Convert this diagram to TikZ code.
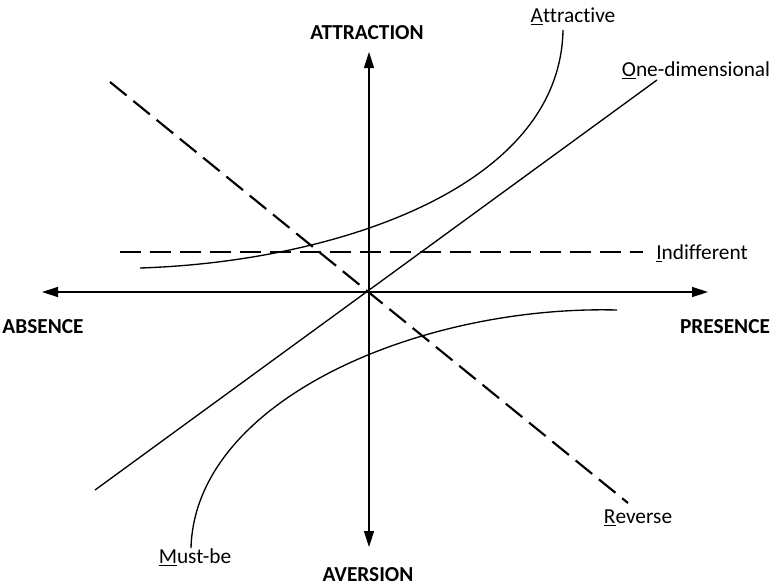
\documentclass[tikz,border=0pt]{standalone}
\usepackage{fontspec}
\setmainfont{Carlito}[Ligatures=NoCommon]
\usepackage{tikz}
\usetikzlibrary{arrows.meta, positioning}

\begin{document}
\begin{tikzpicture}[x=0.75pt, y=-0.75pt,
    axis/.style={line width=1pt, {Triangle[length=12pt, width=7.5pt]}-{Triangle[length=12pt, width=7.5pt]}},
    curve/.style={line width=1pt},
    dashline/.style={line width=1.6pt, dash pattern=on 16pt off 6.5pt},
    axislabel/.style={font=\fontsize{16}{19}\selectfont\bfseries, anchor=base, inner sep=0pt},
    typelabel/.style={font=\fontsize{16}{19}\selectfont, anchor=base, inner sep=0pt}]
    \useasboundingbox (0,0) rectangle (773,586);

    % Axes
    \coordinate (attrtip) at (369,52);
    \coordinate (avertip) at (369,547);
    \coordinate (abstip) at (42,292);
    \coordinate (prestip) at (708,292);
    \draw[axis] (avertip) -- (attrtip);
    \draw[axis] (abstip) -- (prestip);

    \node[axislabel] (attraction) at (367,39) {ATTRACTION};
    \node[axislabel] (aversion) at (368,581) {AVERSION};
    \node[axislabel] (absence) at (43,333) {ABSENCE};
    \node[axislabel] (presence) at (725,333) {PRESENCE};

    % Straight lines
    \coordinate (onestart) at (95,490);
    \coordinate (oneend) at (657,80);
    \draw[curve] (onestart) -- (oneend);

    \coordinate (revstart) at (110,82);
    \coordinate (revend) at (628,503);
    \draw[dashline] (revstart) -- (revend);

    \coordinate (indstart) at (120,252);
    \coordinate (indend) at (643,252);
    \draw[dashline] (indstart) -- (indend);

    % Curves
    \coordinate (attrstart) at (140,268);
    \coordinate (attrend) at (563,30);
    \draw[curve] (attrstart) .. controls (330,262) and (560,190) .. (attrend);

    \coordinate (muststart) at (191,548);
    \coordinate (mustend) at (617,310);
    \draw[curve] (muststart) .. controls (195,400) and (420,305) .. (mustend);

    % Type labels
    \node[typelabel] (attractive) at (573,22) {\underline{A}ttractive};
    \node[typelabel] (onedim) at (696,76) {\underline{O}ne-dimensional};
    \node[typelabel] (indifferent) at (702,259) {\underline{I}ndifferent};
    \node[typelabel] (reverse) at (638,523) {\underline{R}everse};
    \node[typelabel] (mustbe) at (195,563) {\underline{M}ust-be};
\end{tikzpicture}
\end{document}
